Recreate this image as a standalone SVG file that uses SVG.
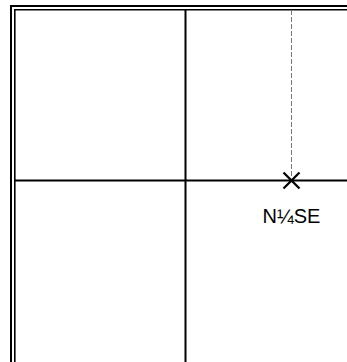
<svg xmlns="http://www.w3.org/2000/svg" width="347" height="362" viewBox="0 0 347 362">
<style>
.b{stroke:#000;fill:none}
.t{font-family:"Liberation Sans",Arial,sans-serif;font-size:20px;fill:#000}
</style>
<rect width="347" height="362" fill="#fff"/>
<g id="frame">
<path class="b" stroke-width="2" d="M11 362V6H347"/>
<path class="b" stroke-width="1.6" d="M14.8 362V9.8H347"/>
</g>
<g id="connectors">
<line class="b" stroke-width="2" x1="185.5" y1="10" x2="185.5" y2="362"/>
<line class="b" stroke-width="2" x1="15" y1="180.5" x2="347" y2="180.5"/>
<line stroke="#777" stroke-width="1" stroke-dasharray="5,2" x1="291.5" y1="10" x2="291.5" y2="178"/>
</g>
<g id="marker">
<path class="b" stroke-width="2.3" d="M283.5 172.5L299.5 188.5M299.5 172.5L283.5 188.5"/>
<text class="t" x="291.5" y="223" text-anchor="middle">N¼SE</text>
</g>
</svg>
